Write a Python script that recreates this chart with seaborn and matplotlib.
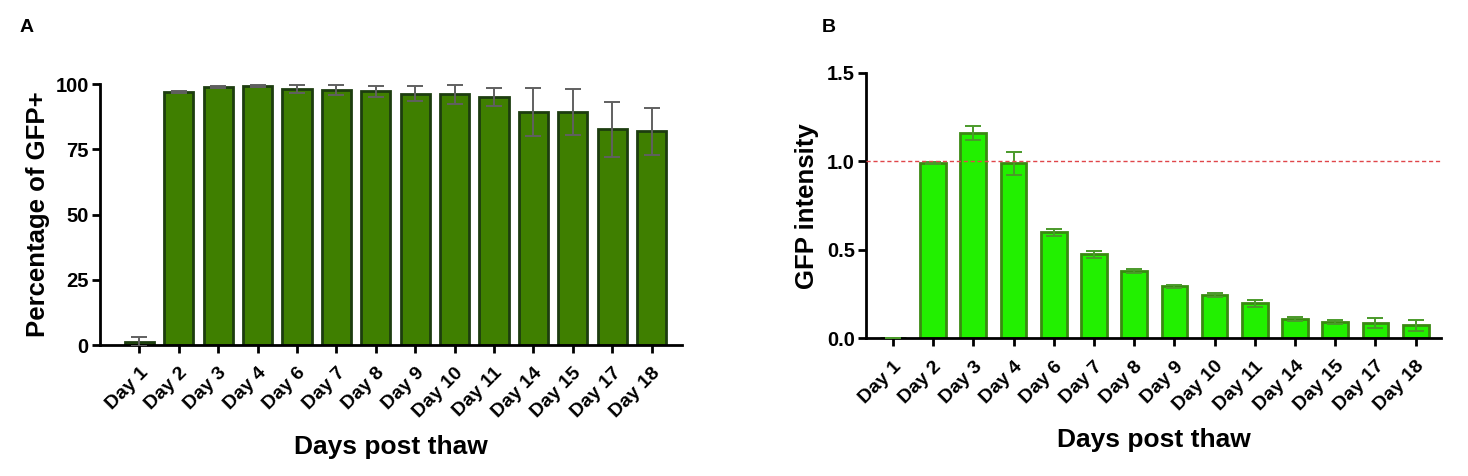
import matplotlib
matplotlib.use("Agg")
import matplotlib.pyplot as plt
import seaborn as sns
import pandas as pd

# Days post thaw
days = ['Day 1', 'Day 2', 'Day 3', 'Day 4', 'Day 6', 'Day 7', 'Day 8', 'Day 9',
        'Day 10', 'Day 11', 'Day 14', 'Day 15', 'Day 17', 'Day 18']

# Panel A - percentage of GFP+ cells (mean, SD)
pct_gfp = [1.3, 97.0, 98.9, 99.3, 98.1, 97.7, 97.2, 96.3, 96.0, 95.1, 89.4, 89.4, 82.6, 81.9]
pct_sd = [1.7, 0.4, 0.4, 0.3, 1.4, 1.9, 2.0, 2.9, 3.6, 3.5, 9.2, 8.8, 10.5, 9.0]

# Panel B - GFP intensity (mean, SD)
gfp_int = [0.0, 0.99, 1.16, 0.99, 0.60, 0.475, 0.38, 0.295, 0.245, 0.198, 0.112, 0.094, 0.088, 0.075]
gfp_sd = [0.0, 0.005, 0.04, 0.065, 0.02, 0.018, 0.012, 0.008, 0.011, 0.022, 0.011, 0.010, 0.028, 0.030]

dfA = pd.DataFrame({'Day': days, 'Value': pct_gfp, 'SD': pct_sd})
dfB = pd.DataFrame({'Day': days, 'Value': gfp_int, 'SD': gfp_sd})

sns.set_style("ticks")
plt.rcParams['font.family'] = ['Liberation Sans', 'DejaVu Sans']
plt.rcParams['font.weight'] = 'bold'
plt.rcParams['text.color'] = 'black'
plt.rcParams['axes.labelcolor'] = 'black'
plt.rcParams['xtick.color'] = 'black'
plt.rcParams['ytick.color'] = 'black'
plt.rcParams['axes.edgecolor'] = 'black'

fig = plt.figure(figsize=(14.68, 4.76), dpi=100)
axA = fig.add_axes([0.0681, 0.2752, 0.3965, 0.5483])
axB = fig.add_axes([0.5899, 0.2889, 0.3917, 0.5578])


def style_axis(ax):
    sns.despine(ax=ax)
    for s in ['left', 'bottom']:
        ax.spines[s].set_linewidth(2.0)
        ax.spines[s].set_color('black')
    ax.tick_params(axis='both', width=2.0, length=6, color='black', labelcolor='black')
    ax.tick_params(axis='y', labelsize=14.5, pad=2)
    ax.tick_params(axis='x', labelsize=14, pad=8)
    for lab in ax.get_xticklabels():
        lab.set_rotation(45)
        lab.set_ha('right')
        lab.set_rotation_mode('anchor')
        lab.set_fontweight('bold')
    for lab in ax.get_yticklabels():
        lab.set_fontweight('bold')


# Panel A
sns.barplot(data=dfA, x='Day', y='Value', color='#3f7f00', edgecolor='#1d3d0f',
            linewidth=2.0, width=0.74, saturation=1, errorbar=None, ax=axA)
xs = [p.get_x() + p.get_width() / 2 for p in axA.patches]
axA.errorbar(xs, dfA['Value'], yerr=dfA['SD'], fmt='none', ecolor='#606060',
             elinewidth=1.4, capsize=6, capthick=1.4, zorder=5)
axA.set_ylim(0, 100)
axA.set_yticks([0, 25, 50, 75, 100])
axA.set_xlim(-1.0, 13.77)
axA.set_ylabel('Percentage of GFP+', fontsize=18.5, fontweight='bold', labelpad=4)
axA.set_xlabel('Days post thaw', fontsize=19, fontweight='bold', labelpad=10)
style_axis(axA)

# Panel B
sns.barplot(data=dfB, x='Day', y='Value', color='#22f000', edgecolor='#3a8a12',
            linewidth=2.0, width=0.64, saturation=1, errorbar=None, ax=axB)
xs = [p.get_x() + p.get_width() / 2 for p in axB.patches]
axB.errorbar(xs, dfB['Value'], yerr=dfB['SD'], fmt='none', ecolor='#4a9a2a',
             elinewidth=1.4, capsize=6, capthick=1.4, zorder=5)
axB.axhline(1.0, color='#e0464a', linestyle=(0, (3, 2)), linewidth=1.0, zorder=6)
axB.set_ylim(0, 1.5)
axB.set_yticks([0.0, 0.5, 1.0, 1.5])
axB.set_yticklabels(['0.0', '0.5', '1.0', '1.5'])
axB.set_xlim(-0.67, 13.63)
axB.set_ylabel('GFP intensity', fontsize=18.5, fontweight='bold', labelpad=6)
axB.set_xlabel('Days post thaw', fontsize=19, fontweight='bold', labelpad=10)
style_axis(axB)

fig.text(0.0136, 0.943, 'A', fontsize=14, fontweight='bold', va='center')
fig.text(0.560, 0.943, 'B', fontsize=14, fontweight='bold', va='center')

fig.savefig('out.png', dpi=100, facecolor='white')
